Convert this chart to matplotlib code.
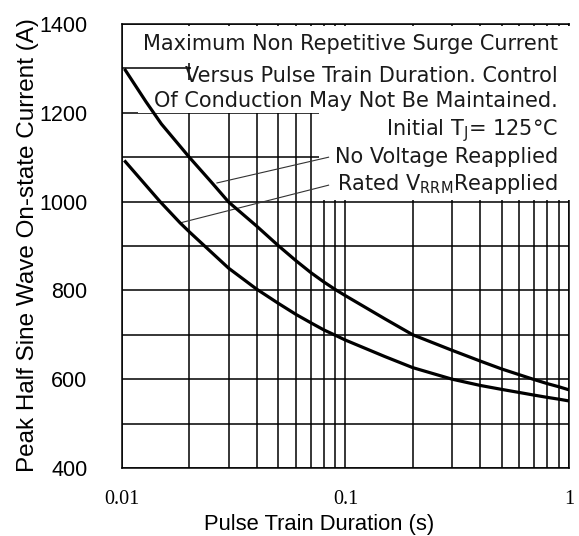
import numpy as np
import matplotlib
matplotlib.use('Agg')
import matplotlib.pyplot as plt
from matplotlib.patches import Rectangle

# pulse train duration (s) and peak surge current (A)
t_no_volt = [0.01035, 0.0128, 0.015, 0.02, 0.025, 0.03, 0.04, 0.05, 0.06, 0.07,
             0.08, 0.09, 0.1, 0.15, 0.2, 0.3, 0.4, 0.5, 0.6, 0.7, 0.8, 0.9, 1.0]
i_no_volt = [1296, 1225, 1175, 1100, 1045, 999, 945, 901, 867, 840,
             819, 802, 788, 736, 700, 665, 641, 623, 610, 599, 590, 583, 576]

t_rated = [0.01035, 0.0148, 0.0182, 0.02, 0.03, 0.04, 0.05, 0.06, 0.07,
           0.08, 0.09, 0.1, 0.15, 0.2, 0.3, 0.4, 0.5, 0.6, 0.7, 0.8, 0.9, 1.0]
i_rated = [1090, 1000, 952, 932, 850, 803, 771, 746, 727,
           711, 699, 688, 651, 626, 600, 586, 577, 570, 564, 559, 555, 551]

y_ticks = [400, 600, 800, 1000, 1200, 1400]
x_ticks = [0.01, 0.1, 1]
x_ticklabels = ['0.01', '0.1', '1']

fig = plt.figure(figsize=(5.79, 5.36), dpi=100)
ax = fig.add_axes([0.2107, 0.1269, 0.772, 0.8283])

ax.set_xscale('log')
ax.set_xlim(0.01, 1)
ax.set_ylim(400, 1400)

# grid: every 100 A on y, decades + minors on x
ax.set_yticks(y_ticks)
ax.set_yticks(np.arange(400, 1401, 100), minor=True)
ax.set_xticks(x_ticks)
ax.set_xticklabels(x_ticklabels, family='Liberation Serif', fontsize=14.5)
ax.grid(True, which='both', color='black', linewidth=1.1)
ax.tick_params(which='both', length=0)
ax.tick_params(axis='x', pad=16)
ax.tick_params(axis='y', pad=25)
for lab in ax.get_yticklabels():
    lab.set_family('Liberation Sans')
    lab.set_fontsize(15.5)
for sp in ax.spines.values():
    sp.set_linewidth(1.1)

# white backing behind the note text (hides grid and right spine there)
for (x0, x1, y0, y1) in [(0.0103, 1.03, 1312, 1396), (0.0203, 1.03, 1200, 1312),
                         (0.0118, 1.03, 1200, 1274), (0.0765, 1.03, 1003, 1200)]:
    ax.add_patch(Rectangle((x0, y0), x1 - x0, y1 - y0, facecolor='white',
                           edgecolor='none', zorder=2.6, clip_on=False))

ax.plot(t_no_volt, i_no_volt, color='black', linewidth=2.3, zorder=4)
ax.plot(t_rated, i_rated, color='black', linewidth=2.3, zorder=4)

# leader lines
ax.plot([0.084, 0.0266], [1100, 1042], color='#333333', linewidth=0.8, zorder=3)
ax.plot([0.084, 0.0182], [1037, 952], color='#333333', linewidth=0.8, zorder=3)

note_x = 0.975
rows = [
    (0.9414, 'Maximum Non Repetitive Surge Current'),
    (0.8694, 'Versus Pulse Train Duration. Control'),
    (0.8131, 'Of Conduction May Not Be Maintained.'),
    (0.750, r'Initial T$_{\rm J}$= 125°C'),
    (0.687, 'No Voltage Reapplied'),
    (0.626, r'Rated V$_{\rm RRM}$Reapplied'),
]
for yy, txt in rows:
    ax.text(note_x, yy, txt, transform=ax.transAxes, ha='right', va='baseline',
            fontsize=15, family='DejaVu Sans', color='#1a1a1a', zorder=5)

fig.text(319 / 579, 1 - 530 / 536, 'Pulse Train Duration (s)', family='Liberation Sans',
         fontsize=15.8, ha='center', va='baseline')
fig.text(28 / 579, 1 - 245 / 536, 'Peak Half Sine Wave On-state Current (A)',
         family='Liberation Sans', fontsize=17.5, rotation=90, ha='center', va='center')

plt.savefig('out.png', dpi=100)
